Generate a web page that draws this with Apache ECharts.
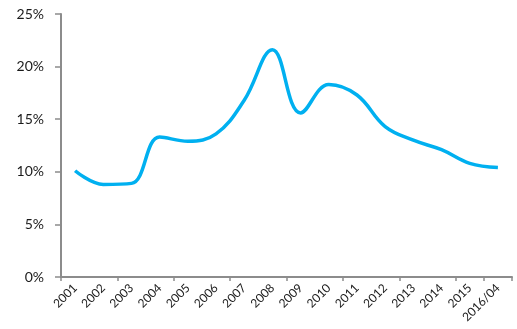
<!DOCTYPE html>
<html>
<head>
<meta charset="utf-8">
<script src="https://cdn.jsdelivr.net/npm/echarts@6/dist/echarts.min.js"></script>
<style>
html, body { margin: 0; padding: 0; background: #fff; }
#main { width: 517px; height: 329px; }
</style>
</head>
<body>
<div id="main"></div>
<script>
// categories
var years = ['2001', '2002', '2003', '2004', '2005', '2006', '2007', '2008',
    '2009', '2010', '2011', '2012', '2013', '2014', '2015', '2016/04'];
// values, %
var rates = [10.1, 8.8, 8.9, 13.3, 12.9, 13.6, 16.8, 21.6,
    15.6, 18.3, 17.3, 14.3, 13.0, 12.1, 10.8, 10.4];
var yTicks = [0, 5, 10, 15, 20, 25];

var chart = echarts.init(document.getElementById('main'));
var axisGray = '#8c8c8c';

chart.setOption({
    animation: false,
    textStyle: { fontFamily: 'Lato' },
    grid: { left: 61, right: 5, top: 14, bottom: 52, containLabel: false },
    xAxis: {
        type: 'category',
        boundaryGap: true,
        data: years,
        axisLine: { lineStyle: { color: axisGray, width: 2 } },
        axisTick: { show: true, interval: 1, length: 4, lineStyle: { color: axisGray, width: 1.5 } },
        axisLabel: { interval: 0, rotate: 45, margin: 9, fontSize: 12, color: '#1a1a1a' },
        splitLine: { show: false }
    },
    yAxis: {
        type: 'value',
        min: yTicks[0],
        max: yTicks[yTicks.length - 1],
        interval: 5,
        axisLine: { show: true, lineStyle: { color: axisGray, width: 2 } },
        axisTick: { show: true, length: 6, lineStyle: { color: axisGray, width: 1.5 } },
        axisLabel: {
            margin: 17, fontSize: 14, color: '#1a1a1a',
            formatter: function (v) { return v + '%'; }
        },
        splitLine: { show: false }
    },
    series: [{
        type: 'line',
        data: rates,
        smooth: 0.4,
        symbol: 'none',
        lineStyle: { color: '#00b0f0', width: 3.5 }
    }]
});
</script>
</body>
</html>
